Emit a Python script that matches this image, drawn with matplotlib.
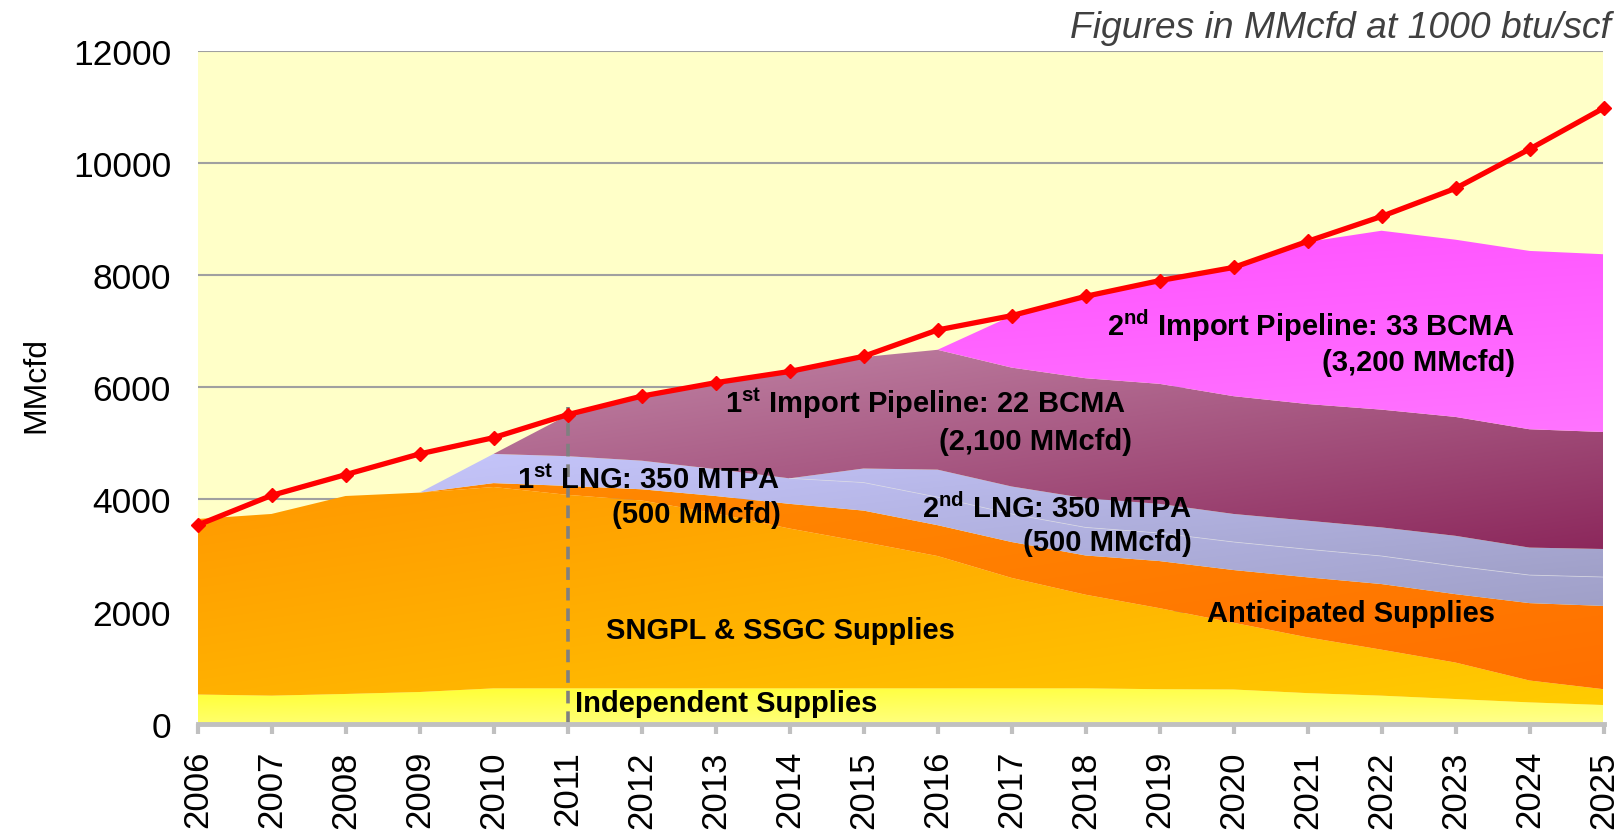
import numpy as np
import matplotlib
matplotlib.use("Agg")
import matplotlib.pyplot as plt
from matplotlib.patches import PathPatch
from matplotlib.colors import to_rgb

plt.rcParams['font.family'] = ['Liberation Sans', 'DejaVu Sans']
plt.rcParams['mathtext.fontset'] = 'custom'
plt.rcParams['mathtext.rm'] = 'Liberation Sans'
plt.rcParams['mathtext.bf'] = 'Liberation Sans:bold'

# ---------------- data (MMcfd) ----------------
years = list(range(2006, 2026))
demand = [3540, 4070, 4440, 4810, 5100, 5510, 5840, 6080, 6280, 6550,
          7020, 7275, 7620, 7900, 8135, 8600, 9045, 9545, 10245, 10975]
independent = [520, 500, 530, 565, 630, 630, 630, 630, 630, 630,
               630, 630, 630, 615, 610, 545, 500, 440, 380, 333]
sngpl_ssgc = [3130, 3240, 3530, 3555, 3590, 3450, 3350, 3120, 2850, 2610,
              2360, 1970, 1670, 1445, 1190, 995, 820, 650, 390, 282]
anticipated = [0, 0, 0, 0, 70, 160, 200, 310, 440, 560,
               550, 640, 700, 840, 940, 1070, 1170, 1220, 1380, 1485]
lng_1 = [0, 0, 0, 0, 520, 530, 510, 480, 455, 500,
         500, 500, 500, 500, 500, 500, 500, 500, 500, 515]
lng_2 = [0, 0, 0, 0, 0, 0, 0, 0, 0, 250,
         490, 490, 520, 520, 500, 510, 510, 540, 490, 500]
pipeline_1 = [0, 0, 0, 0, 0, 730, 1150, 1530, 1896, 1987,
              2137, 2120, 2140, 2140, 2100, 2080, 2100, 2120, 2110, 2086]
pipeline_2 = [0, 0, 0, 0, 0, 0, 0, 0, 0, 0,
              0, 920, 1450, 1840, 2290, 2890, 3190, 3160, 3180, 3170]
y_ticks = [0, 2000, 4000, 6000, 8000, 10000, 12000]

W, H = 1621, 837
fig = plt.figure(figsize=(W / 100, H / 100), dpi=100)
fig.patch.set_facecolor('white')
left, right, top, bottom = 197.5, 1603.5, 51.7, 724.7
ax = fig.add_axes([left / W, 1 - bottom / H, (right - left) / W, (bottom - top) / H])
ax.set_xlim(2006, 2025)
ax.set_ylim(0, 12000)
ax.set_facecolor('#FFFFC8')

x = np.array(years, dtype=float)


def grad_layer(lo, hi, c1, c2, wx, wy, z):
    lo = np.asarray(lo, float)
    hi = np.asarray(hi, float)
    poly = ax.fill_between(x, lo, hi, facecolor='none', edgecolor='none', lw=0)
    path = poly.get_paths()[0]
    patch = PathPatch(path, transform=ax.transData, facecolor='none', edgecolor='none')
    ax.add_patch(patch)
    ymin, ymax = lo.min(), hi.max()
    nx, ny = 300, 300
    X, Y = np.meshgrid(np.linspace(0, 1, nx), np.linspace(0, 1, ny))
    t = (wx * X + wy * (1 - Y)) / (wx + wy)
    a, b = np.array(to_rgb(c1)), np.array(to_rgb(c2))
    img = a[None, None, :] * (1 - t[..., None]) + b[None, None, :] * t[..., None]
    im = ax.imshow(img, extent=[x[0], x[-1], ymin, ymax], origin='lower',
                   aspect='auto', zorder=z, interpolation='bilinear')
    im.set_clip_path(patch)
    ax.set_xlim(2006, 2025)
    ax.set_ylim(0, 12000)


layers = [
    (independent, '#FFFF30', '#FFFF90', 0.6, 1.0),
    (sngpl_ssgc, '#FF9800', '#FFCC00', 1.0, 1.0),
    (anticipated, '#FF8C00', '#FF7000', 1.0, 1.0),
    (lng_1, '#C8C8FF', '#A0A0C8', 1.0, 1.0),
    (lng_2, '#C8C8FF', '#A0A0C8', 1.0, 1.0),
    (pipeline_1, '#C892B0', '#8C285C', 1.0, 1.0),
    (pipeline_2, '#FF4CFF', '#FF80FF', 0.3, 1.0),
]
base = np.zeros(len(years))
for i, (vals, c1, c2, wx, wy) in enumerate(layers):
    topv = base + np.array(vals, float)
    grad_layer(base, topv, c1, c2, wx, wy, 2 + i * 0.01)
    base = topv

# faint seam between the two LNG layers
cum_lng1 = (np.array(independent) + np.array(sngpl_ssgc) + np.array(anticipated)
            + np.array(lng_1))
mask = np.array(lng_2) > 0
idx = np.where(mask)[0]
seg = slice(idx[0] - 1, len(years))
ax.plot(x[seg], cum_lng1[seg], color='#DCDCEC', lw=0.6, alpha=0.7, zorder=2.5)

# grid
ax.set_yticks(y_ticks)
ax.yaxis.grid(True, color='#A0A0A0', lw=1.5)
ax.set_axisbelow(True)

# dashed vertical marker at 2011
ax.plot([2011, 2011], [0, 5650], color='#808080', lw=2.6,
        ls=(0, (3.5, 2.2)), zorder=5, clip_on=False)

# demand line
ax.plot(x, demand, color='#FF0000', lw=3.8, marker='D', ms=7.5,
        zorder=6, clip_on=False)

# axes styling
for s in ['left', 'top', 'right']:
    ax.spines[s].set_visible(False)
ax.spines['bottom'].set_color('#C0C0C0')
ax.spines['bottom'].set_linewidth(3.5)
ax.spines['bottom'].set_zorder(7)
ax.set_xticks(years)
ax.set_xticklabels([str(y) for y in years], rotation=90, fontsize=25)
ax.tick_params(axis='x', colors='black', color='#C0C0C0', width=3, length=7, pad=12)
ax.tick_params(axis='y', length=0, pad=19, labelsize=25.5)
for lbl in ax.get_xticklabels():
    lbl.set_va('top')

fig.text(36 / W, 1 - 385 / H, 'MMcfd', rotation=90, ha='center', va='center', fontsize=23)
fig.text(1611 / W, 1 - 38 / H, 'Figures in MMcfd at 1000 btu/scf', ha='right',
         va='baseline', fontsize=26.8, style='italic', color='#404040')

# annotations
tk = dict(fontsize=21, fontweight='bold', color='black', zorder=8, va='baseline')
ax.text(2013.88, 1530, 'SNGPL & SSGC Supplies', ha='center', **tk)
ax.text(2013.14, 221, 'Independent Supplies', ha='center', **tk)
ax.text(2021.59, 1825, 'Anticipated Supplies', ha='center', **tk)

ax.text(2013.88, 4203, r'$\mathbf{1^{st}}$ LNG: 350 MTPA', ha='right', **tk)
ax.text(2013.88, 3595, '(500 MMcfd)', ha='right', **tk)

ax.text(2018.55, 5549, r'$\mathbf{1^{st}}$ Import Pipeline: 22 BCMA', ha='right', **tk)
ax.text(2018.63, 4904, '(2,100 MMcfd)', ha='right', **tk)

ax.text(2019.44, 3687, r'$\mathbf{2^{nd}}$ LNG: 350 MTPA', ha='right', **tk)
ax.text(2019.44, 3097, '(500 MMcfd)', ha='right', **tk)

ax.text(2023.80, 6931, r'$\mathbf{2^{nd}}$ Import Pipeline: 33 BCMA', ha='right', **tk)
ax.text(2023.80, 6304, '(3,200 MMcfd)', ha='right', **tk)

fig.savefig('out.png', dpi=100)
